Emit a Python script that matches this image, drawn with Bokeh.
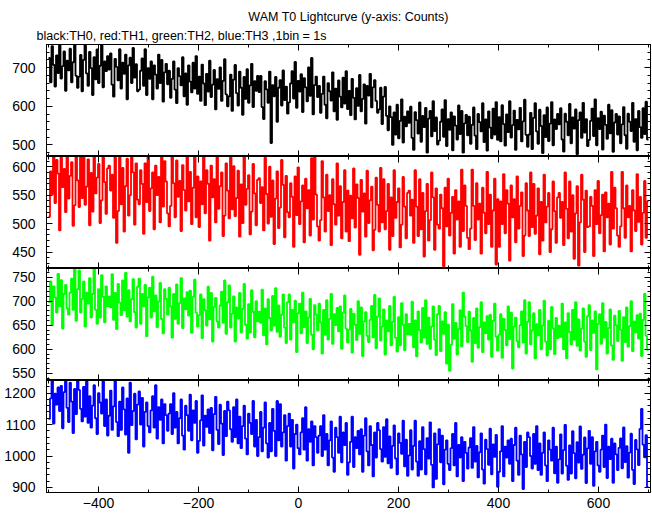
import numpy as np
from bokeh.plotting import figure
from bokeh.layouts import column
from bokeh.models import Range1d, LinearAxis, SingleIntervalTicker, Title
from bokeh.embed import file_html
from bokeh.resources import INLINE

# ---------------- data (counts per bin) ----------------
time_start = -500      # s
bin_size = 3           # s per plotted value

th0 = [
    725, 662, 756, 707, 651, 732, 686, 766, 672, 704, 742, 640, 718, 693, 749, 662, 714, 770, 679, 648,
    677, 733, 639, 720, 758, 685, 653, 741, 699, 629, 727, 670, 747, 660, 705, 761, 649, 716, 691, 730,
    695, 737, 656, 625, 723, 702, 667, 748, 646, 713, 684, 734, 618, 706, 726, 660, 751, 674, 709, 639,
    643, 692, 724, 653, 748, 629, 699, 671, 716, 618, 706, 682, 646, 734, 660, 720, 612, 688, 710, 657,
    692, 622, 671, 716, 643, 608, 699, 678, 654, 727, 626, 685, 604, 706, 664, 636, 713, 646, 730, 632,
    677, 614, 708, 659, 603, 684, 638, 718, 624, 656, 694, 592, 670, 645, 701, 614, 666, 722, 631, 600,
    626, 682, 588, 669, 707, 634, 602, 690, 648, 578, 676, 619, 696, 609, 654, 710, 598, 665, 640, 679,
    637, 679, 598, 567, 665, 644, 609, 690, 505, 655, 626, 676, 560, 648, 668, 602, 693, 616, 651, 581,
    610, 659, 691, 620, 715, 596, 666, 638, 683, 585, 673, 649, 613, 701, 627, 725, 579, 655, 677, 624,
    653, 583, 632, 677, 604, 569, 660, 639, 615, 688, 587, 646, 565, 667, 625, 597, 674, 607, 691, 593,
    640, 577, 671, 622, 566, 647, 601, 681, 587, 619, 657, 555, 653, 628, 684, 597, 649, 668, 614, 583,
    592, 648, 554, 625, 650, 575, 538, 600, 572, 500, 584, 527, 604, 517, 562, 618, 506, 573, 548, 587,
    557, 599, 518, 487, 585, 564, 529, 610, 508, 575, 546, 596, 480, 568, 588, 522, 613, 536, 571, 501,
    511, 560, 592, 521, 616, 497, 567, 539, 584, 486, 574, 550, 514, 602, 528, 588, 480, 556, 578, 525,
    573, 503, 552, 597, 524, 489, 580, 559, 535, 608, 507, 566, 485, 587, 545, 517, 594, 527, 611, 513,
    572, 509, 603, 554, 498, 579, 533, 613, 519, 551, 589, 487, 565, 540, 596, 509, 561, 617, 526, 495,
    527, 583, 489, 570, 608, 535, 503, 591, 549, 479, 577, 520, 597, 510, 555, 611, 499, 566, 541, 580,
    553, 595, 514, 483, 581, 560, 525, 606, 504, 571, 542, 592, 476, 564, 584, 518, 609, 532, 567, 497,
    513, 562, 594, 523, 618, 499, 569, 541, 586, 488, 576, 552, 516, 604, 530, 590, 482, 558, 580, 527,
    574, 504, 553, 598, 525, 490, 581, 560, 536, 609, 508, 567, 486, 588, 546, 518, 595, 528, 612, 514,
]

th1 = [
    512, 592, 552, 640, 536, 612, 588, 488, 620, 564, 596, 520, 636, 544, 584, 608, 496, 532, 624, 576,
    529, 641, 545, 621, 533, 565, 613, 497, 589, 521, 637, 553, 581, 605, 501, 541, 625, 573, 517, 597,
    602, 558, 586, 510, 638, 466, 522, 622, 534, 598, 486, 566, 614, 514, 550, 634, 590, 498, 606, 542,
    534, 594, 570, 482, 606, 538, 622, 522, 562, 590, 490, 602, 550, 582, 502, 638, 530, 610, 574, 518,
    495, 531, 635, 571, 511, 611, 547, 575, 487, 603, 559, 523, 631, 539, 591, 499, 563, 619, 511, 583,
    494, 574, 534, 622, 518, 594, 570, 470, 602, 546, 578, 502, 618, 526, 566, 590, 478, 514, 606, 558,
    509, 621, 525, 601, 513, 545, 593, 477, 569, 501, 617, 533, 561, 585, 481, 521, 605, 553, 497, 577,
    580, 536, 564, 488, 616, 552, 500, 600, 512, 576, 464, 544, 592, 492, 528, 612, 568, 476, 584, 520,
    511, 571, 547, 459, 583, 515, 599, 499, 539, 567, 467, 579, 527, 559, 479, 615, 507, 625, 551, 495,
    470, 506, 610, 546, 486, 586, 522, 550, 462, 578, 534, 498, 606, 514, 566, 474, 538, 594, 486, 558,
    469, 549, 509, 597, 493, 569, 545, 445, 577, 521, 553, 477, 593, 501, 541, 565, 453, 489, 581, 533,
    486, 598, 502, 578, 490, 522, 570, 454, 546, 478, 594, 510, 538, 562, 458, 498, 582, 530, 474, 554,
    558, 514, 542, 466, 594, 530, 478, 578, 490, 554, 442, 522, 570, 470, 506, 590, 546, 454, 562, 498,
    491, 551, 527, 425, 563, 495, 579, 479, 519, 547, 447, 559, 507, 539, 459, 595, 487, 567, 531, 475,
    455, 491, 595, 531, 471, 571, 507, 535, 447, 563, 519, 483, 591, 499, 551, 459, 523, 579, 428, 543,
    459, 539, 499, 587, 483, 559, 535, 435, 567, 511, 543, 467, 583, 491, 531, 555, 443, 479, 571, 523,
    478, 590, 494, 570, 482, 514, 562, 446, 538, 470, 586, 502, 530, 554, 450, 490, 574, 522, 466, 546,
    554, 510, 538, 462, 590, 526, 474, 574, 486, 550, 438, 518, 566, 426, 502, 586, 542, 450, 558, 494,
    495, 547, 531, 443, 559, 499, 575, 483, 515, 551, 451, 555, 511, 535, 463, 591, 491, 563, 527, 479,
    459, 495, 591, 527, 475, 567, 511, 531, 451, 559, 523, 487, 587, 503, 547, 463, 519, 575, 475, 539,
]

th2 = [
    698, 741, 650, 731, 708, 676, 757, 689, 744, 643, 715, 734, 685, 672, 718, 747, 682, 770, 659, 725,
    764, 676, 705, 741, 647, 718, 695, 748, 666, 715, 767, 682, 653, 725, 666, 754, 709, 656, 731, 689,
    710, 687, 756, 661, 717, 642, 736, 697, 671, 743, 681, 759, 668, 723, 658, 704, 746, 677, 645, 730,
    747, 653, 715, 689, 734, 627, 708, 728, 666, 751, 679, 712, 646, 699, 738, 663, 633, 725, 705, 672,
    728, 689, 624, 715, 663, 735, 653, 696, 748, 644, 706, 683, 719, 670, 722, 634, 709, 745, 676, 647,
    671, 714, 623, 704, 681, 649, 730, 662, 717, 616, 688, 707, 658, 645, 691, 720, 655, 743, 632, 698,
    733, 645, 674, 710, 616, 687, 664, 717, 635, 684, 736, 651, 622, 694, 635, 723, 678, 625, 700, 658,
    678, 655, 724, 629, 685, 610, 704, 665, 639, 711, 649, 727, 636, 691, 626, 672, 714, 645, 613, 698,
    714, 620, 682, 656, 701, 594, 675, 695, 633, 718, 646, 679, 613, 666, 705, 630, 600, 692, 672, 639,
    695, 656, 591, 682, 630, 702, 620, 663, 715, 611, 673, 650, 686, 637, 689, 601, 676, 712, 643, 614,
    641, 684, 593, 674, 651, 619, 700, 632, 687, 586, 658, 677, 628, 615, 661, 690, 625, 713, 602, 668,
    706, 618, 647, 683, 589, 660, 637, 690, 608, 657, 709, 624, 595, 667, 608, 696, 651, 598, 673, 631,
    653, 630, 699, 604, 660, 585, 679, 640, 614, 686, 624, 702, 611, 666, 601, 647, 689, 620, 588, 673,
    690, 596, 658, 632, 677, 570, 651, 555, 609, 694, 622, 655, 589, 642, 681, 606, 718, 668, 648, 615,
    678, 639, 574, 665, 613, 685, 603, 646, 698, 594, 656, 633, 669, 620, 672, 584, 659, 695, 626, 597,
    630, 673, 582, 663, 640, 608, 689, 621, 676, 560, 647, 666, 617, 604, 650, 679, 614, 702, 591, 657,
    698, 610, 639, 675, 581, 652, 629, 682, 600, 649, 701, 616, 587, 659, 600, 688, 643, 590, 665, 623,
    649, 626, 695, 600, 656, 581, 675, 636, 610, 682, 620, 698, 607, 662, 597, 643, 685, 616, 584, 669,
    692, 598, 660, 634, 679, 558, 653, 673, 611, 696, 624, 657, 591, 644, 683, 608, 578, 670, 650, 617,
    680, 641, 576, 667, 615, 687, 605, 648, 700, 596, 658, 635, 671, 622, 674, 586, 661, 715, 628, 599,
]

th3 = [
    1118, 1183, 1263, 1103, 1198, 1163, 1218, 1143, 1223, 1088, 1203, 1258, 1153, 1108, 1233, 1173, 1073, 1213, 1133, 1243,
    1210, 1150, 1110, 1220, 1125, 1245, 1105, 1190, 1090, 1160, 1225, 1120, 1070, 1200, 1170, 1135, 1240, 1095, 1180, 1065,
    1128, 1208, 1083, 1158, 1238, 1108, 1063, 1173, 1083, 1218, 1148, 1068, 1183, 1010, 1233, 1098, 1143, 1198, 1053, 1163,
    1205, 1100, 1185, 1030, 1140, 1170, 1095, 1075, 1145, 1190, 1090, 1225, 1055, 1155, 1115, 1180, 1040, 1165, 1130, 1080,
    1135, 1165, 1070, 1200, 1090, 1140, 1040, 1120, 1180, 1065, 1020, 1160, 1130, 1080, 1195, 1050, 1145, 1105, 1175, 1010,
    1048, 1113, 1193, 1033, 1128, 1093, 1148, 1073, 1153, 1018, 1133, 1188, 1083, 1038, 1163, 1103, 1003, 1143, 1063, 1173,
    1145, 1085, 1045, 1155, 1060, 1180, 1040, 1125, 1025, 1095, 1160, 1055, 1005, 1135, 1105, 1070, 1175, 1030, 1115, 1000,
    1060, 1140, 1015, 1090, 1170, 1040, 995, 1105, 1015, 1150, 1080, 1000, 1175, 1050, 1165, 1030, 1075, 1130, 985, 1095,
    1135, 1030, 1115, 960, 1070, 1100, 1025, 1005, 1075, 1120, 1020, 1155, 985, 1085, 1045, 1110, 970, 1095, 1060, 1010,
    1065, 1095, 1000, 1130, 1020, 1070, 970, 1050, 1110, 995, 950, 1090, 1060, 1010, 1125, 980, 1075, 1035, 1105, 940,
    980, 1045, 1125, 965, 1060, 1025, 1080, 1005, 1085, 950, 1065, 1120, 1015, 970, 1095, 1035, 935, 1075, 995, 1105,
    1082, 1022, 982, 1092, 997, 1117, 977, 1062, 962, 1032, 1097, 992, 942, 1072, 1042, 1007, 1112, 967, 1052, 937,
    1002, 1082, 957, 1032, 1112, 982, 937, 1047, 957, 1092, 1022, 942, 1057, 992, 1107, 972, 900, 1072, 927, 1037,
    1085, 980, 1065, 910, 1020, 1050, 975, 955, 1025, 1070, 970, 1105, 935, 1035, 995, 1060, 920, 1045, 1010, 960,
    1027, 1057, 962, 1092, 982, 1032, 932, 1012, 1072, 957, 912, 1052, 1022, 972, 1087, 942, 1037, 997, 1067, 902,
    950, 1015, 1095, 935, 1030, 995, 1050, 975, 1055, 920, 1035, 1090, 985, 940, 1065, 1005, 895, 1045, 965, 1075,
    1060, 1000, 960, 1070, 975, 1095, 955, 1040, 940, 1010, 1075, 970, 920, 1050, 1020, 985, 1090, 945, 1030, 915,
    989, 1069, 944, 1019, 1099, 969, 924, 1034, 944, 1079, 1009, 929, 1044, 979, 1094, 959, 1004, 1059, 914, 1024,
    1080, 975, 1060, 905, 1015, 1045, 970, 950, 1020, 1065, 965, 1100, 930, 1030, 990, 1055, 915, 1040, 1005, 955,
    1026, 1056, 961, 1091, 981, 1031, 931, 1011, 1071, 956, 911, 1051, 1021, 971, 1086, 1150, 1036, 996, 1066, 901,
]

title_text = "WAM T0 Lightcurve (y-axis: Counts)"
subtitle_text = "black:TH0, red:TH1, green:TH2, blue:TH3 ,1bin = 1s"

# ---------------- styling ----------------
FONT = "Liberation Sans"
FRAME_W = 604
x_range = Range1d(-504, 704)

panels = [
    dict(y=th0, color="#000000", yr=(470, 760), step=100, fh=112),
    dict(y=th1, color="#ff0000", yr=(421, 618), step=50, fh=112),
    dict(y=th2, color="#00ff00", yr=(535, 768), step=50, fh=112),
    dict(y=th3, color="#0000ff", yr=(884, 1240), step=100, fh=112),
]


def make_axis(ticker, labelled, standoff=0):
    ax = LinearAxis(ticker=ticker)
    ax.major_tick_in = 6
    ax.major_tick_out = 0
    ax.minor_tick_in = 3
    ax.minor_tick_out = 0
    ax.axis_line_color = "black"
    ax.axis_line_width = 1
    ax.major_tick_line_color = "black"
    ax.minor_tick_line_color = "black"
    ax.major_tick_line_width = 1
    ax.minor_tick_line_width = 1
    ax.major_label_text_font = FONT
    if labelled:
        ax.major_label_text_color = "black"
        ax.major_label_text_font_size = "14px"
        ax.major_label_standoff = standoff
    else:
        ax.major_label_text_color = None
        ax.major_label_text_font_size = "0px"
        ax.major_label_standoff = 0
    return ax


figs = []
n = len(panels)
for i, cfg in enumerate(panels):
    p = figure(
        frame_width=FRAME_W, frame_height=cfg["fh"],
        x_range=x_range, y_range=Range1d(*cfg["yr"]),
        x_axis_location=None, y_axis_location=None,
        output_backend="svg", toolbar_location=None,
        min_border_left=46, min_border_right=2,
        min_border_top=0, min_border_bottom=0,
        background_fill_color="white", border_fill_color="white",
    )
    p.grid.visible = False
    p.outline_line_color = "black"
    p.outline_line_width = 1

    yt = SingleIntervalTicker(interval=cfg["step"], num_minor_ticks=5)
    xt = SingleIntervalTicker(interval=200, num_minor_ticks=2)
    p.add_layout(make_axis(yt, True, 11), "left")
    p.add_layout(make_axis(yt, False), "right")
    p.add_layout(make_axis(xt, False), "above")
    p.add_layout(make_axis(xt, i == n - 1, 5), "below")

    yv = np.asarray(cfg["y"], dtype=float)
    xv = time_start + bin_size * np.arange(len(yv))
    xe = np.append(xv, xv[-1] + bin_size)
    ye = np.append(yv, yv[-1])
    p.step(xe, ye, mode="after", line_color=cfg["color"], line_width=1.8)

    if i == 0:
        p.margin = (6, 0, 0, 0)
        p.add_layout(Title(text=subtitle_text, align="left", offset=-10,
                           text_font=FONT, text_font_size="12.5px",
                           text_font_style="normal", text_color="black",
                           standoff=3), "above")
        p.add_layout(Title(text=title_text, align="center", offset=-67,
                           text_font=FONT, text_font_size="12.5px",
                           text_font_style="normal", text_color="black",
                           standoff=3), "above")
    figs.append(p)

layout = column(*figs, spacing=0)

open("out.html", "w").write(file_html(layout, INLINE))
